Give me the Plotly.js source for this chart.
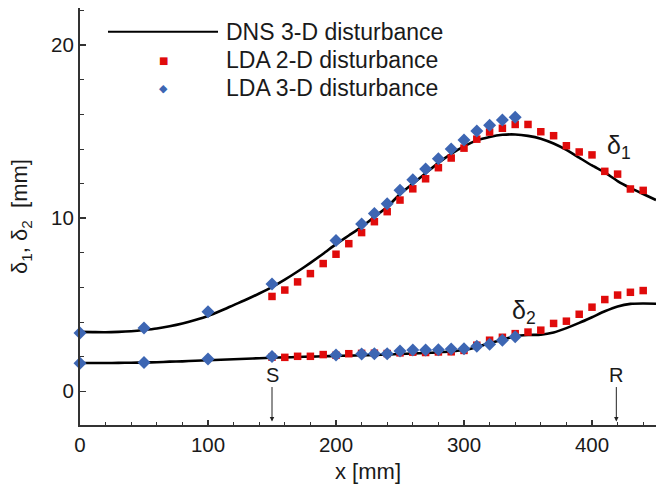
<!DOCTYPE html>
<html>
<head>
<meta charset="utf-8">
<script src="https://cdn.plot.ly/plotly-3.0.1.min.js"></script>
<style>
  html, body { margin: 0; padding: 0; background: #fff; }
  #chart { width: 668px; height: 493px; }
</style>
</head>
<body>
<div id="chart"></div>
<script>
// ---- DNS 3-D disturbance (continuous lines) ----
const dnsX = [0,10,20,30,40,50,60,70,80,90,100,110,120,130,140,150,160,170,180,190,200,210,220,230,240,250,260,270,280,290,300,310,320,330,340,350,360,370,380,390,400,410,420,430,440,450];
const dnsDelta1 = [3.43,3.42,3.41,3.43,3.47,3.54,3.63,3.76,3.92,4.12,4.35,4.65,4.98,5.30,5.65,6.02,6.45,6.92,7.42,7.95,8.50,9.00,9.50,10.08,10.65,11.40,12.00,12.60,13.20,13.72,14.15,14.50,14.70,14.82,14.84,14.76,14.60,14.32,13.95,13.50,13.05,12.65,12.15,11.75,11.40,11.05];
const dnsDelta2 = [1.63,1.63,1.63,1.64,1.65,1.66,1.68,1.71,1.73,1.76,1.79,1.82,1.85,1.88,1.91,1.94,1.96,1.98,2.00,2.02,2.04,2.06,2.08,2.10,2.12,2.15,2.18,2.21,2.25,2.30,2.38,2.55,2.78,2.98,3.18,3.25,3.27,3.40,3.65,3.95,4.28,4.62,4.90,5.05,5.07,5.06];

// ---- LDA 2-D disturbance (red squares) ----
const lda2X = [150,160,170,180,190,200,210,220,230,240,250,260,270,280,290,300,310,320,330,340,350,360,370,380,390,400,410,420,430,440];
const lda2Delta1 = [5.48,5.85,6.32,6.80,7.38,7.92,8.53,9.17,9.80,10.38,11.05,11.70,12.28,12.92,13.48,14.05,14.57,14.98,15.20,15.42,15.42,15.00,14.77,14.19,13.83,13.66,12.71,12.55,11.69,11.61];
const lda2Delta2 = [1.97,1.96,2.02,2.02,2.12,2.08,2.17,2.19,2.20,2.18,2.22,2.26,2.24,2.27,2.28,2.36,2.66,2.95,3.12,3.33,3.42,3.53,3.92,4.05,4.45,4.86,5.30,5.56,5.72,5.82];

// ---- LDA 3-D disturbance (blue diamonds) ----
const lda3X = [0,50,100,150,200,220,230,240,250,260,270,280,290,300,310,320,330,340];
const lda3Delta1 = [3.37,3.65,4.60,6.20,8.71,9.67,10.27,10.84,11.61,12.23,12.84,13.44,14.00,14.52,15.04,15.38,15.67,15.83];
const lda3Delta2 = [1.62,1.66,1.86,2.01,2.10,2.16,2.17,2.17,2.33,2.38,2.38,2.40,2.44,2.45,2.60,2.72,2.95,3.15];

// ---- labels ----
const legendLabels = ['DNS 3-D disturbance', 'LDA 2-D disturbance', 'LDA 3-D disturbance'];
const xTickVals = [0, 100, 200, 300, 400];
const yTickVals = [0, 10, 20];

const FONT = 'Liberation Sans, Arial, Helvetica, sans-serif';
const TXT = '#1a1a1a';
const RED = '#e00b0b';
const BLUE = '#3d66b3';

const lineStyle = {color: '#000', width: 2.6, shape: 'spline', smoothing: 0.6};
const sqMarker = {symbol: 'square', size: 7.5, color: RED};
const dmMarker = {symbol: 'diamond', size: 10, color: BLUE};

const traces = [
  {x: dnsX, y: dnsDelta1, mode: 'lines', line: lineStyle, name: legendLabels[0], showlegend: false},
  {x: dnsX, y: dnsDelta2, mode: 'lines', line: lineStyle, name: legendLabels[0], showlegend: false},
  {x: lda2X, y: lda2Delta1, mode: 'markers', marker: sqMarker, name: legendLabels[1], showlegend: false, cliponaxis: false},
  {x: lda2X, y: lda2Delta2, mode: 'markers', marker: sqMarker, name: legendLabels[1], showlegend: false, cliponaxis: false},
  {x: lda3X, y: lda3Delta1, mode: 'markers', marker: dmMarker, name: legendLabels[2], showlegend: false, cliponaxis: false},
  {x: lda3X, y: lda3Delta2, mode: 'markers', marker: dmMarker, name: legendLabels[2], showlegend: false, cliponaxis: false}
];

// custom legend (paper coordinates)
const legRows = [0.943, 0.875, 0.807];
const legTextX = 0.25;
const annotations = [];
legendLabels.forEach((lab, i) => {
  annotations.push({xref: 'paper', yref: 'paper', x: legTextX, y: legRows[i], text: lab,
    showarrow: false, xanchor: 'left', yanchor: 'middle', font: {family: FONT, size: 23, color: TXT}});
});
annotations.push({xref: 'paper', yref: 'paper', x: 0.1458, y: legRows[1], text: '■', showarrow: false,
  xanchor: 'center', yanchor: 'middle', font: {family: 'DejaVu Sans', size: 10, color: RED}});
annotations.push({xref: 'paper', yref: 'paper', x: 0.1458, y: legRows[2], text: '◆', showarrow: false,
  xanchor: 'center', yanchor: 'middle', font: {family: 'DejaVu Sans', size: 11, color: BLUE}});

// curve labels
annotations.push({x: 421, y: 14.1, text: 'δ<sub>1</sub>', showarrow: false, font: {family: FONT, size: 25, color: TXT}});
annotations.push({x: 347, y: 4.6, text: 'δ<sub>2</sub>', showarrow: false, font: {family: FONT, size: 25, color: TXT}});

// S and R markers
[['S', 150], ['R', 419]].forEach(([t, xv]) => {
  annotations.push({x: xv, y: -1.75, text: t, showarrow: true, ax: 0, ay: -47,
    arrowhead: 2, arrowsize: 0.9, arrowwidth: 1, arrowcolor: '#222', standoff: 0,
    font: {family: FONT, size: 20, color: TXT}});
});

const layout = {
  width: 668, height: 493,
  margin: {l: 80, r: 12, t: 8, b: 68},
  paper_bgcolor: '#fff', plot_bgcolor: '#fff',
  showlegend: false,
  font: {family: FONT, color: TXT},
  xaxis: {
    range: [0, 450], tickvals: xTickVals, ticks: 'inside', ticklen: 5, tickwidth: 1.5, tickcolor: '#333',
    minor: {dtick: 20, ticks: 'inside', ticklen: 3.5, tickwidth: 1, tickcolor: '#333'},
    showline: true, linecolor: '#333', linewidth: 2, showgrid: false, zeroline: false,
    tickfont: {family: FONT, size: 20.5, color: TXT},
    title: {text: 'x [mm]', font: {family: FONT, size: 22, color: TXT}, standoff: 9}
  },
  yaxis: {
    range: [-1.95, 22.15], tickvals: yTickVals, ticks: 'inside', ticklen: 6, tickwidth: 1.5, tickcolor: '#333',
    minor: {dtick: 2, ticks: 'inside', ticklen: 4, tickwidth: 1, tickcolor: '#333'},
    showline: true, linecolor: '#333', linewidth: 2, showgrid: false, zeroline: false,
    tickfont: {family: FONT, size: 20.5, color: TXT},
    title: {text: 'δ<sub>1</sub>, δ<sub>2</sub>  [mm]', font: {family: FONT, size: 22, color: TXT}, standoff: 17}
  },
  shapes: [
    {type: 'line', xref: 'paper', yref: 'paper', x0: 0.0486, x1: 0.2396, y0: legRows[0], y1: legRows[0],
     line: {color: '#000', width: 2.2}}
  ],
  annotations: annotations
};

Plotly.newPlot('chart', traces, layout, {displayModeBar: false, staticPlot: true});
</script>
</body>
</html>
